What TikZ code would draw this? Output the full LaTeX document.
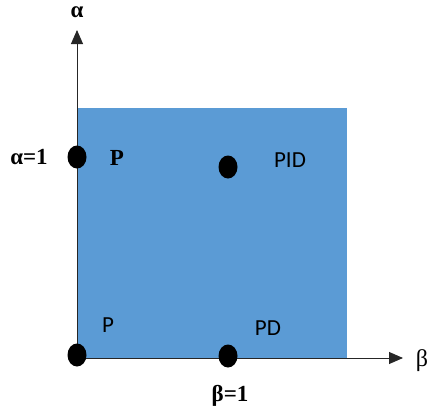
\documentclass[tikz,border=0pt]{standalone}
\usepackage{fontspec}
\setmainfont{Liberation Serif}
\newfontfamily\calfont{Carlito}
\usetikzlibrary{arrows.meta, shapes.geometric, positioning}
\definecolor{regionblue}{HTML}{5B9BD5}

\begin{document}
\begin{tikzpicture}[x=1pt, y=-1pt,
                    axis/.style = {draw=black!85, line width=0.9pt, -{Triangle[length=14pt, width=12pt]}},
                    pt/.style = {fill=black, ellipse, minimum width=19pt, minimum height=23pt, inner sep=0pt},
                    serif/.style = {font=\fontsize{23}{26}\selectfont\bfseries},
                    sans/.style = {font=\calfont\fontsize{23}{26}\selectfont}
                ]
                    \useasboundingbox (0,0) rectangle (429,410);
                    \fill[regionblue] (77,108) rectangle (347,358);

                    \coordinate (O) at (77,358);
                    \coordinate (atip) at (77,30);
                    \coordinate (btip) at (403,358);
                    \draw[axis] (O) -- (atip);
                    \draw[axis] (O) -- (btip);

                    \node[pt] (P1) at (77,157) {};
                    \node[pt] (PID) at (228,167) {};
                    \node[pt] (P0) at (77,355) {};
                    \node[pt] (PD) at (228,356) {};

                    \node[serif] (alab) at (77,12) {α};
                    \node[font=\fontsize{24}{26}\selectfont] (blab) at (422,361) {β};
                    \node[serif] (a1) at (29,157) {α=1};
                    \node[serif] (b1) at (230,396) {β=1};
                    \node[serif] (Plab) at (117,158) {P};
                    \node[sans] (PIDlab) at (290,160) {PID};
                    \node[sans] (P0lab) at (108,325) {P};
                    \node[sans] (PDlab) at (268,328) {PD};
                \end{tikzpicture}
\end{document}
